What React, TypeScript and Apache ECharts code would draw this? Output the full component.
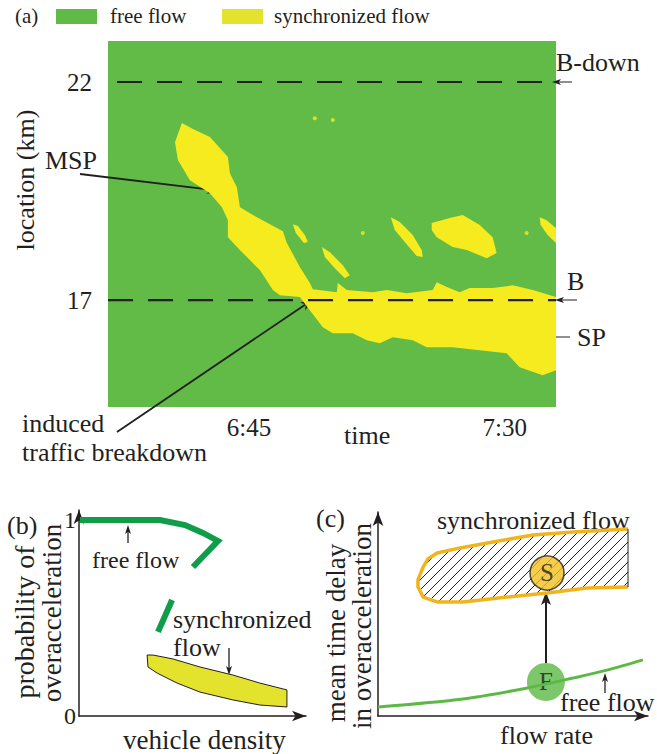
import React, { useEffect, useRef } from 'react';
import * as echarts from 'echarts';

// ---------- panel (a): spatiotemporal diagram ----------
const timeDomain = [20.2, 99]; // minutes after 6:00
const locationDomain = [14.55, 22.94]; // km
const timeTickValues = [45, 90];
const timeTickLabels = ['6:45', '7:30'];
const locationTickValues = [17, 22];
const locationTickLabels = ['17', '22'];
const bottleneckB = 17;
const bottleneckBDown = 22;

// yellow synchronized-flow patches [time(min after 6:00), location(km)]
const mspAndSp = [
  [33.2, 21.06], [35.14, 20.92], [38.13, 20.74], [41.29, 20.28], [41.64, 19.91], [42.87, 19.59],
  [43.4, 19.13], [46.39, 18.9], [50.96, 18.58], [51.66, 18.31], [53.94, 17.76], [55.7, 17.39],
  [56.23, 17.25], [60.45, 17.18], [60.62, 17.39], [62.2, 17.23], [66.77, 17.18], [69.23, 17.23],
  [72.75, 17.16], [77.32, 17.23], [78.02, 17.41], [79.78, 17.3], [82.06, 17.18], [83.82, 17.28],
  [87.86, 17.28], [90.32, 17.32], [91.38, 17.34], [94.89, 17.23], [99, 17.07],
  [99, 15.39], [96.65, 15.28], [92.61, 15.46], [90.32, 15.78], [85.58, 15.85], [80.83, 15.92],
  [76.26, 15.92], [73.8, 16.08], [70.29, 16.15], [68.0, 16.01], [65.72, 16.08], [63.26, 16.24],
  [59.74, 16.24], [57.99, 16.38], [55.7, 16.77], [53.94, 17.07],
  [50.43, 17.11], [49.2, 17.23], [46.91, 17.69], [43.4, 18.15], [41.29, 18.44], [41.29, 18.83],
  [40.24, 19.13], [38.13, 19.45], [34.61, 19.75], [32.5, 20.21], [31.98, 20.62],
];
const island1 = [[52.71, 18.74], [53.59, 18.7], [54.82, 18.49], [55.35, 18.33], [54.65, 18.31], [53.24, 18.54]];
const island2 = [[57.81, 18.22], [59.22, 18.1], [61.5, 17.8], [62.73, 17.57], [61.85, 17.5], [60.1, 17.73], [58.34, 17.99]];
const island3 = [[69.94, 18.9], [71.52, 18.79], [73.8, 18.49], [75.38, 18.15], [75.56, 17.99], [74.51, 18.01], [72.4, 18.33], [70.64, 18.61]];
const island4 = [
  [77.14, 18.77], [80.31, 18.88], [82.59, 18.95], [85.58, 18.72], [87.86, 18.44], [88.56, 18.08],
  [86.81, 17.96], [83.29, 18.15], [80.83, 18.22], [78.02, 18.44], [77.14, 18.61],
];
const island5 = [[96.13, 18.9], [97.35, 18.83], [99, 18.65], [99, 18.31], [97.53, 18.49], [96.3, 18.72]];
const syncPatches = [mspAndSp, island1, island2, island3, island4, island5];
const syncSpecks = [[56.58, 21.17], [59.74, 21.13], [65.02, 18.54], [93.84, 18.54]];

// ---------- panel (b): probability of overacceleration vs density ----------
const freeFlowUpper = [[0.004, 1.0], [0.357, 1.0], [0.467, 0.974], [0.546, 0.934], [0.612, 0.893], [0.502, 0.76]];
const freeFlowLower = [[0.41, 0.592], [0.348, 0.429]];
const syncBandB = [
  [0.3, 0.311], [0.304, 0.25], [0.344, 0.219], [0.432, 0.168], [0.533, 0.122], [0.678, 0.082],
  [0.797, 0.056], [0.916, 0.046], [0.916, 0.133], [0.797, 0.168], [0.678, 0.209], [0.533, 0.25],
  [0.414, 0.291], [0.326, 0.311],
];

// ---------- panel (c): mean time delay vs flow rate ----------
const freeFlowC = [[0, 0.044], [0.315, 0.083], [0.552, 0.137], [0.722, 0.186], [0.848, 0.225], [0.981, 0.275]];
const syncRegionC = [
  [0.926, 0.917], [0.722, 0.902], [0.574, 0.887], [0.426, 0.853], [0.304, 0.824], [0.219, 0.799],
  [0.185, 0.77], [0.167, 0.73], [0.148, 0.667], [0.148, 0.632], [0.167, 0.583], [0.219, 0.559],
  [0.315, 0.559], [0.478, 0.583], [0.626, 0.603], [0.774, 0.627], [0.926, 0.632],
];
const stateS = [0.626, 0.701];
const stateF = [0.622, 0.167];

const FONT = '"Liberation Serif", "Times New Roman", serif';
const INK = '#231f20';
const FREE_GREEN = '#62bb47';
const SYNC_YELLOW = '#f6eb1f';
const LEGEND_YELLOW = '#e3e22c';
const DARK_GREEN = '#0f9d4a';
const ORANGE = '#f1b51c';

function txt(text: string, x: number, y: number, size: number, rot = 0, align = 'left') {
  return {
    type: 'text',
    x,
    y,
    rotation: rot,
    silent: true,
    style: { text, font: `${size}px ${FONT}`, fontFamily: FONT, fontSize: size, fill: INK, align, verticalAlign: 'middle' },
  };
}

function arrow(x1: number, y1: number, x2: number, y2: number, w = 1.5, hl = 14, hw = 8) {
  const dx = x2 - x1;
  const dy = y2 - y1;
  const L = Math.hypot(dx, dy);
  const ux = dx / L;
  const uy = dy / L;
  const bx = x2 - ux * hl;
  const by = y2 - uy * hl;
  const px = -uy;
  const py = ux;
  return [
    { type: 'line', silent: true, shape: { x1, y1, x2: bx + ux * 3, y2: by + uy * 3 }, style: { stroke: INK, lineWidth: w } },
    {
      type: 'polygon',
      silent: true,
      shape: {
        points: [
          [x2, y2],
          [bx + (px * hw) / 2, by + (py * hw) / 2],
          [bx + ux * hl * 0.25, by + uy * hl * 0.25],
          [bx - (px * hw) / 2, by - (py * hw) / 2],
        ],
      },
      style: { fill: INK },
    },
  ];
}

function makeHatch() {
  const c = document.createElement('canvas');
  c.width = 10;
  c.height = 10;
  const ctx = c.getContext('2d')!;
  ctx.strokeStyle = '#231f20';
  ctx.lineWidth = 1;
  ctx.beginPath();
  ctx.moveTo(0, 10); ctx.lineTo(10, 0);
  ctx.moveTo(-5, 5); ctx.lineTo(5, -5);
  ctx.moveTo(5, 15); ctx.lineTo(15, 5);
  ctx.stroke();
  return c;
}

export default function App() {
  const ref = useRef<HTMLDivElement>(null);
  useEffect(() => {
    if (!ref.current) return;
    const chart = echarts.init(ref.current, null, { renderer: 'svg' });
    const hatch = makeHatch();
    const arrowAxis = {
      show: true,
      symbol: ['none', 'arrow'],
      symbolSize: [8, 14],
      lineStyle: { color: INK, width: 1.5 },
    };
    const option: any = {
      animation: false,
      textStyle: { fontFamily: FONT },
      grid: [
        { left: 108, top: 41, width: 448, height: 366, show: true, backgroundColor: FREE_GREEN, borderWidth: 0 },
        { left: 79, top: 510, width: 227, height: 206 },
        { left: 378, top: 512, width: 270, height: 204 },
      ],
      xAxis: [
        {
          gridIndex: 0, type: 'value', min: timeDomain[0], max: timeDomain[1],
          axisLine: { show: false }, axisTick: { show: false }, splitLine: { show: false },
          axisLabel: {
            customValues: timeTickValues,
            formatter: (v: number) => timeTickLabels[timeTickValues.indexOf(v)] ?? '',
            fontFamily: FONT, fontSize: 25, color: INK, margin: 8,
          },
        },
        { gridIndex: 1, type: 'value', min: 0, max: 1, axisLine: arrowAxis, axisTick: { show: false }, axisLabel: { show: false }, splitLine: { show: false } },
        { gridIndex: 2, type: 'value', min: 0, max: 1, axisLine: arrowAxis, axisTick: { show: false }, axisLabel: { show: false }, splitLine: { show: false } },
      ],
      yAxis: [
        {
          gridIndex: 0, type: 'value', min: locationDomain[0], max: locationDomain[1],
          axisLine: { show: false }, axisTick: { show: false }, splitLine: { show: false },
          axisLabel: {
            customValues: locationTickValues,
            formatter: (v: number) => locationTickLabels[locationTickValues.indexOf(v)] ?? '',
            fontFamily: FONT, fontSize: 25, color: INK, margin: 16,
          },
        },
        {
          gridIndex: 1, type: 'value', min: 0, max: 1.051, axisLine: arrowAxis, axisTick: { show: false }, splitLine: { show: false },
          axisLabel: { customValues: [0, 1], fontFamily: FONT, fontSize: 24, color: INK, margin: 3 },
        },
        { gridIndex: 2, type: 'value', min: 0, max: 1, axisLine: arrowAxis, axisTick: { show: false }, axisLabel: { show: false }, splitLine: { show: false } },
      ],
      series: [
        {
          type: 'custom', name: 'synchronized flow', xAxisIndex: 0, yAxisIndex: 0, silent: true,
          data: syncPatches.map((p) => p[0]),
          renderItem: (params: any, api: any) => ({
            type: 'polygon',
            shape: { points: syncPatches[params.dataIndex].map((pt) => api.coord(pt)) },
            style: { fill: SYNC_YELLOW },
          }),
        },
        {
          type: 'scatter', xAxisIndex: 0, yAxisIndex: 0, silent: true, symbol: 'circle', symbolSize: 4,
          itemStyle: { color: SYNC_YELLOW }, data: syncSpecks,
        },
        {
          type: 'line', xAxisIndex: 0, yAxisIndex: 0, silent: true, symbol: 'none',
          lineStyle: { color: INK, width: 2.2, type: [25, 15] },
          data: [[21.8, bottleneckBDown], [timeDomain[1], bottleneckBDown]],
        },
        {
          type: 'line', xAxisIndex: 0, yAxisIndex: 0, silent: true, symbol: 'none',
          lineStyle: { color: INK, width: 2.2, type: [25, 15] },
          data: [[timeDomain[0], bottleneckB], [timeDomain[1], bottleneckB]],
        },
        {
          type: 'line', xAxisIndex: 1, yAxisIndex: 1, silent: true, symbol: 'none',
          lineStyle: { color: DARK_GREEN, width: 6, cap: 'butt', join: 'miter' },
          data: freeFlowUpper,
        },
        {
          type: 'line', xAxisIndex: 1, yAxisIndex: 1, silent: true, symbol: 'none',
          lineStyle: { color: DARK_GREEN, width: 6, cap: 'butt' },
          data: freeFlowLower,
        },
        {
          type: 'custom', xAxisIndex: 1, yAxisIndex: 1, silent: true,
          data: [syncBandB[0]],
          renderItem: (params: any, api: any) => ({
            type: 'polygon',
            shape: { points: syncBandB.map((pt) => api.coord(pt)) },
            style: { fill: LEGEND_YELLOW, stroke: INK, lineWidth: 1 },
          }),
        },
        {
          type: 'custom', xAxisIndex: 2, yAxisIndex: 2, silent: true,
          data: [syncRegionC[0]],
          renderItem: (params: any, api: any) => {
            const pts = syncRegionC.map((pt) => api.coord(pt));
            const last = pts[pts.length - 1];
            return {
              type: 'group',
              children: [
                { type: 'polygon', shape: { points: pts }, style: { fill: { image: hatch, repeat: 'repeat' } } },
                { type: 'polyline', shape: { points: pts }, style: { stroke: ORANGE, lineWidth: 3.5, fill: null, lineJoin: 'round' } },
                { type: 'line', shape: { x1: pts[0][0], y1: pts[0][1], x2: last[0], y2: last[1] }, style: { stroke: INK, lineWidth: 1 } },
              ],
            };
          },
        },
        {
          type: 'line', xAxisIndex: 2, yAxisIndex: 2, silent: true, symbol: 'none', smooth: 0.3,
          lineStyle: { color: '#5cb946', width: 3 },
          data: freeFlowC,
        },
        {
          type: 'scatter', xAxisIndex: 2, yAxisIndex: 2, silent: true,
          data: [
            { value: stateS, name: 'S', symbolSize: 34, itemStyle: { color: '#f4c01e', borderColor: INK, borderWidth: 1.5 } },
            { value: stateF, name: 'F', symbolSize: 38, itemStyle: { color: '#5cb946' } },
          ],
          label: { show: true, position: 'inside', formatter: '{b}', fontFamily: FONT, fontSize: 25, color: INK },
        },
      ],
      graphic: {
        elements: [
          txt('(a)', 15, 16, 21),
          { type: 'rect', silent: true, shape: { x: 56, y: 9, width: 41, height: 15 }, style: { fill: '#62ba46' } },
          txt('free flow', 110, 16, 21),
          { type: 'rect', silent: true, shape: { x: 222, y: 9, width: 41, height: 15 }, style: { fill: LEGEND_YELLOW } },
          txt('synchronized flow', 274, 16, 21),
          txt('location (km)', 25, 180, 26, Math.PI / 2, 'center'),
          txt('MSP', 45, 160, 26),
          txt('B-down', 556, 62, 26),
          txt('B', 567, 281, 26),
          txt('SP', 577, 337, 26),
          txt('induced', 22, 423, 26),
          txt('traffic breakdown', 22, 452, 26),
          txt('time', 344, 435, 26),
          ...arrow(80, 174, 222, 191, 1.8, 15, 9),
          ...arrow(117, 432, 315, 298, 1.8, 15, 9),
          ...arrow(572, 82, 552, 82, 1, 9, 6),
          ...arrow(577, 300, 555, 300, 1, 9, 6),
          ...arrow(570, 337, 521, 337, 1, 9, 6),
          // panel (b)
          txt('(b)', 7, 525, 26),
          txt('probability of', 24, 622, 28, Math.PI / 2, 'center'),
          txt('overacceleration', 52, 613, 27, Math.PI / 2, 'center'),
          txt('free flow', 92, 560, 24),
          ...arrow(128, 543, 128, 525, 1.3, 9, 6),
          txt('synchronized', 173, 619, 26),
          txt('flow', 173, 647, 26),
          ...arrow(229, 648, 229, 675, 1.3, 9, 6),
          txt('vehicle density', 123, 740, 27),
          // panel (c)
          txt('(c)', 316, 518, 26),
          txt('mean time delay', 336, 633, 27, Math.PI / 2, 'center'),
          txt('in overacceleration', 362, 626, 27, Math.PI / 2, 'center'),
          txt('synchronized flow', 437, 520, 26),
          txt('free flow', 560, 702, 26),
          ...arrow(605, 693, 605, 673, 1.3, 9, 6),
          ...arrow(546, 663, 546, 592, 2, 13, 10),
          txt('flow rate', 500, 735, 26),
        ],
      },
    };
    chart.setOption(option);
    return () => chart.dispose();
  }, []);
  return <div ref={ref} style={{ position: 'absolute', left: 0, top: 0, width: 657, height: 754 }} />;
}
